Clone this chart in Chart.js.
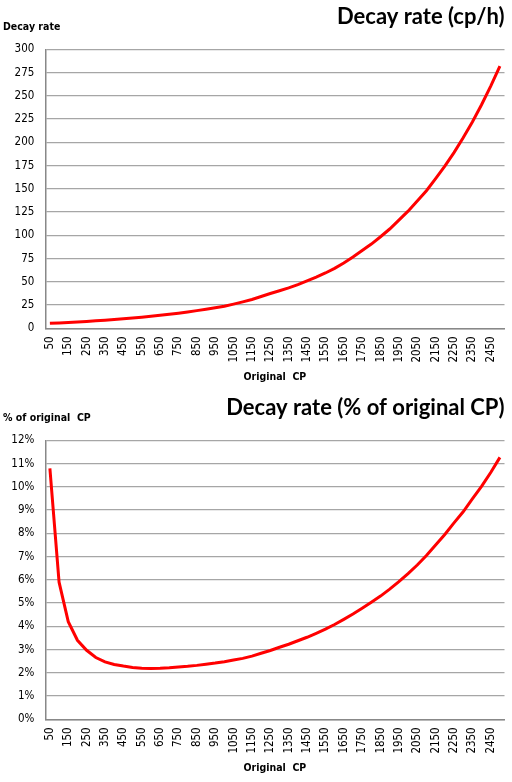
<!DOCTYPE html>
<html lang="en">
  <head>
    <meta charset="UTF-8" />
    <title>Decay rate</title>
    <script src="https://cdn.jsdelivr.net/npm/chart.js@4.4.1/dist/chart.umd.min.js"></script>
    <style>
      body { margin: 0; background: #fff; }
      .box { position: relative; width: 512px; height: 391px; }
    </style>
  </head>
  <body>
    <div class="box"><canvas id="rate-chart"></canvas></div>
    <div class="box"><canvas id="pct-chart"></canvas></div>
    <script>
      // original CP, 50 .. 2500
      const originalCp = [
        50, 100, 150, 200, 250, 300, 350, 400, 450, 500,
        550, 600, 650, 700, 750, 800, 850, 900, 950, 1000,
        1050, 1100, 1150, 1200, 1250, 1300, 1350, 1400, 1450, 1500,
        1550, 1600, 1650, 1700, 1750, 1800, 1850, 1900, 1950, 2000,
        2050, 2100, 2150, 2200, 2250, 2300, 2350, 2400, 2450, 2500,
      ];
      // decay rate in cp per hour
      const decayCpH = [
        5.4, 5.8, 6.3, 6.8, 7.4, 8.0, 8.6, 9.4, 10.2, 11.0,
        11.9, 12.9, 14.0, 15.1, 16.3, 17.6, 19.0, 20.4, 22.0, 23.8,
        26.0, 28.4, 31.0, 34.2, 37.4, 40.4, 43.5, 47.0, 51.0, 55.0,
        59.5, 64.5, 70.3, 76.6, 83.6, 90.6, 98.5, 106.8, 116.4, 126.0,
        137.0, 148.0, 161.0, 174.5, 189.0, 205.0, 222.0, 240.5, 260.5, 282.0,
      ];
      // decay rate as % of original CP
      const decayPct = [
        10.8, 5.9, 4.2, 3.4, 2.97, 2.66, 2.47, 2.36, 2.29, 2.23,
        2.2, 2.19, 2.2, 2.22, 2.25, 2.28, 2.32, 2.37, 2.42, 2.48,
        2.55, 2.62, 2.72, 2.84, 2.96, 3.1, 3.23, 3.38, 3.53, 3.7,
        3.88, 4.08, 4.3, 4.53, 4.78, 5.04, 5.3, 5.6, 5.92, 6.27,
        6.64, 7.05, 7.5, 7.95, 8.45, 8.93, 9.48, 10.02, 10.62, 11.27,
      ];

      const tickFont = { family: "'DejaVu Sans Condensed', 'DejaVu Sans'", size: 11.5 };
      const axisTitleFont = { family: "'DejaVu Sans Condensed', 'DejaVu Sans'", size: 10.5, weight: "bold" };

      // horizontal axis caption in the top-left corner
      const cornerLabel = {
        id: "cornerLabel",
        afterDraw(chart, args, opts) {
          const c = chart.ctx;
          c.save();
          c.font = "bold 10.5px 'DejaVu Sans Condensed', 'DejaVu Sans'";
          c.fillStyle = "#000";
          c.textBaseline = "middle";
          c.textAlign = "left";
          c.fillText(opts.text, 3, 27);
          c.restore();
        },
      };

      function makeChart(id, title, corner, values, yMax, yStep, yFmt) {
        return new Chart(document.getElementById(id), {
          type: "line",
          data: {
            labels: originalCp,
            datasets: [
              {
                data: values,
                borderColor: "#ff0000",
                borderWidth: 3,
                pointRadius: 0,
                tension: 0,
                fill: false,
              },
            ],
          },
          plugins: [cornerLabel],
          options: {
            responsive: true,
            maintainAspectRatio: false,
            animation: false,
            layout: { padding: { left: 0, right: 7.5, top: 0, bottom: 0 } },
            plugins: {
              legend: { display: false },
              tooltip: { enabled: false },
              cornerLabel: { text: corner },
              title: {
                display: true,
                text: title,
                align: "end",
                color: "#000",
                font: { family: "Lato", size: 22, weight: "bold" },
                padding: { top: 4, bottom: 19 },
              },
            },
            scales: {
              x: {
                offset: true,
                grid: { display: false, drawTicks: false },
                border: { color: "#888", width: 1.5 },
                ticks: {
                  autoSkip: false,
                  maxRotation: 90,
                  minRotation: 90,
                  padding: 8,
                  color: "#000",
                  font: tickFont,
                  callback: function (v, i) {
                    return i % 2 === 0 ? this.getLabelForValue(v) : "";
                  },
                },
                title: {
                  display: true,
                  text: "Original  CP",
                  color: "#000",
                  font: axisTitleFont,
                  padding: { top: 0, bottom: 7 },
                },
                afterFit: (scale) => {
                  scale.height = 62.7;
                  scale.paddingLeft = 0;
                  scale.paddingRight = 0;
                },
              },
              y: {
                min: 0,
                max: yMax,
                grid: { color: "#a6a6a6", lineWidth: 1.3, drawTicks: false },
                border: { color: "#888", width: 1.5 },
                ticks: {
                  stepSize: yStep,
                  padding: 11,
                  color: "#000",
                  font: tickFont,
                  callback: yFmt,
                },
                afterFit: (scale) => { scale.width = 45.3; },
              },
            },
          },
        });
      }

      makeChart("rate-chart", "Decay rate (cp/h)", "Decay rate", decayCpH, 300, 25, (v) => v);
      makeChart("pct-chart", "Decay rate (% of original CP)", "% of original  CP", decayPct, 12, 1, (v) => v + "%");
    </script>
  </body>
</html>
